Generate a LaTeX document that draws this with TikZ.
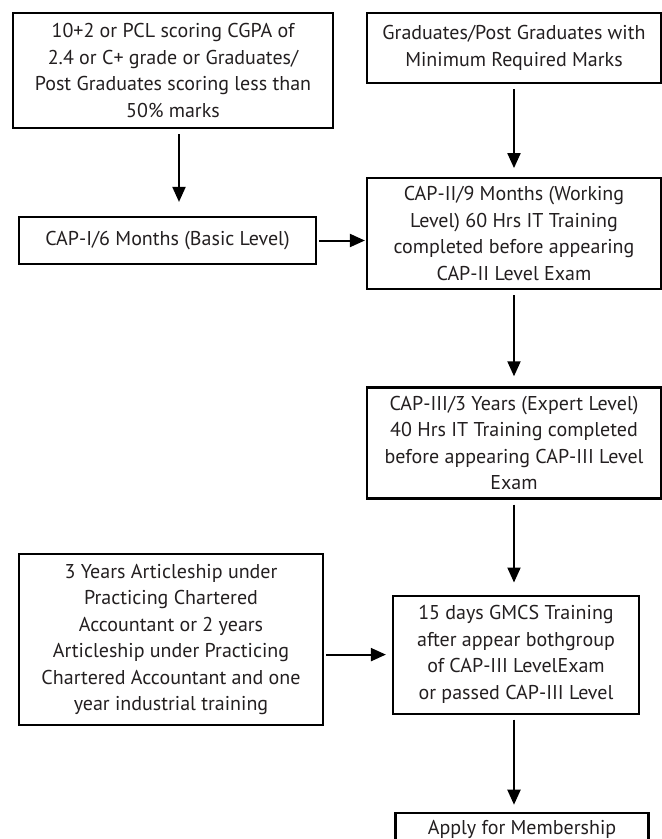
\documentclass[tikz,border=0pt]{standalone}
\usepackage{fontspec}
\setmainfont{PT Sans}
\usetikzlibrary{arrows.meta,positioning}
\definecolor{ink}{HTML}{231F20}

\begin{document}
\begin{tikzpicture}[x=1pt,y=1pt,node distance=94pt,>={Triangle[length=15pt,width=13pt]},
  stage/.style={draw=black,line width=2.2pt,align=center,text=ink,inner sep=0pt,font=\fontsize{20}{26.5}\selectfont},
  flow/.style={->,line width=2pt,shorten <=5pt,shorten >=10pt}]
\clip (0,0) rectangle (662,-839);
% left column
\node[stage,minimum width=320pt,minimum height=115pt] (entry) at (173,-70.5) {10+2 or PCL scoring CGPA of\\2.4 or C+ grade or Graduates/\\Post Graduates scoring less than\\50\% marks};
\node[stage,minimum width=297pt,minimum height=47pt] (capone) at (167.5,-240.5) {CAP-I/6 Months (Basic Level)};
\node[stage,minimum width=304pt,minimum height=171pt] (article) at (171,-639.5) {3 Years Articleship under\\Practicing Chartered\\Accountant or 2 years\\Articleship under Practicing\\Chartered Accountant and one\\year industrial training};
% right column
\node[stage,minimum width=294pt,minimum height=70pt] (grad) at (514,-48) {Graduates/Post Graduates with\\Minimum Required Marks};
\node[stage,minimum width=294pt,minimum height=111pt,below=93pt of grad] (captwo) {CAP-II/9 Months (Working\\Level) 60 Hrs IT Training\\completed before appearing\\CAP-II Level Exam};
\node[stage,minimum width=294pt,minimum height=111pt,below=96pt of captwo] (capthree) {CAP-III/3 Years (Expert Level)\\40 Hrs IT Training completed\\before appearing CAP-III Level\\Exam};
\node[stage,minimum width=246pt,minimum height=118pt,below=95pt of capthree,xshift=2pt] (gmcs) {15 days GMCS Training\\after appear bothgroup\\of CAP-III LevelExam\\or passed CAP-III Level};
\node[stage,minimum width=253pt,minimum height=52pt,below=97pt of gmcs,xshift=6pt] (apply) {Apply for Membership\\[-4pt]\phantom{A}};
\coordinate (drop) at ([xshift=6pt]entry.south);
% arrows
\draw[flow,shorten >=14pt] (drop) -- (drop |- capone.north);
\draw[flow,shorten >=9pt] (grad) -- (captwo);
\draw[flow] (captwo) -- (capthree);
\draw[flow,shorten >=12pt] (capthree) -- (capthree |- gmcs.north);
\draw[flow,shorten >=7pt] (gmcs.south -| capthree) -- (apply.north -| capthree);
\draw[flow,shorten <=2pt,shorten >=1pt] (capone.east) -- (capone.east -| captwo.west);
\draw[flow,shorten <=2pt,shorten >=6pt] (article.east |- gmcs) -- (gmcs.west);
\end{tikzpicture}
\end{document}
